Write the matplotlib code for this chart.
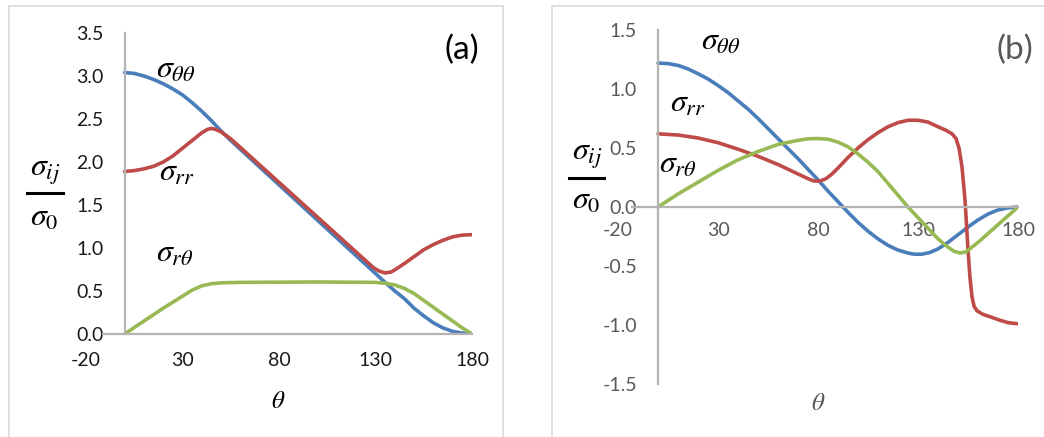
import matplotlib
matplotlib.use("Agg")
import matplotlib.pyplot as plt
from matplotlib.patches import Rectangle
from matplotlib.lines import Line2D

plt.rcParams['font.family'] = ['Lato', 'DejaVu Sans']
plt.rcParams['mathtext.fontset'] = 'stix'
plt.rcParams['axes.unicode_minus'] = False

# ---- panel (a) data ----
a_theta_tt = [0, 5, 10, 15, 20, 25, 30, 35, 40, 45, 50, 55, 135, 140, 145, 150, 155, 160, 165, 170, 175, 180]
a_sig_tt = [3.04, 3.03, 3.00, 2.96, 2.91, 2.85, 2.78, 2.69, 2.59, 2.48, 2.36, 2.25, 0.60, 0.50, 0.41, 0.30,
            0.21, 0.13, 0.07, 0.03, 0.01, 0.0]

a_theta_rr = [0, 5, 10, 15, 20, 25, 30, 35, 40, 43, 45, 47, 50, 55, 129, 132, 135, 138, 141, 145, 150,
              155, 160, 165, 170, 175, 180]
a_sig_rr = [1.89, 1.90, 1.92, 1.95, 2.00, 2.07, 2.16, 2.25, 2.34, 2.38, 2.39, 2.38, 2.35, 2.27, 0.77, 0.73,
            0.71, 0.72, 0.76, 0.82, 0.90, 0.98, 1.04, 1.09, 1.13, 1.15, 1.155]

a_theta_rt = [0, 10, 20, 30, 35, 40, 45, 50, 60, 100, 130, 135, 140, 145, 150, 155, 160, 165, 170, 175, 180]
a_sig_rt = [0.0, 0.15, 0.30, 0.44, 0.51, 0.56, 0.585, 0.595, 0.60, 0.605, 0.60, 0.59, 0.57, 0.53, 0.47, 0.39,
            0.31, 0.23, 0.15, 0.07, 0.0]

# ---- panel (b) data ----
b_theta_tt = [0, 5, 10, 15, 20, 25, 30, 35, 40, 45, 50, 55, 60, 65, 70, 75, 80, 85, 90, 95, 100, 105, 110,
              115, 120, 125, 128, 132, 136, 140, 145, 150, 155, 160, 165, 170, 175, 180]
b_sig_tt = [1.22, 1.215, 1.20, 1.17, 1.13, 1.085, 1.03, 0.97, 0.90, 0.83, 0.75, 0.665, 0.58, 0.495, 0.41,
            0.32, 0.23, 0.135, 0.045, -0.045, -0.13, -0.205, -0.27, -0.325, -0.365, -0.39, -0.40, -0.40,
            -0.385, -0.355, -0.30, -0.235, -0.17, -0.11, -0.06, -0.025, -0.007, 0.0]

b_theta_rr = [0, 10, 20, 30, 40, 50, 55, 60, 65, 70, 75, 78, 81, 84, 87, 90, 95, 100, 105, 110, 115, 120,
              125, 130, 135, 140, 144, 147, 149, 150.5, 152, 153.5, 155, 156, 157, 158, 159.5, 162.5, 166,
              171, 175, 180]
b_sig_rr = [0.62, 0.61, 0.585, 0.545, 0.49, 0.43, 0.395, 0.36, 0.32, 0.28, 0.24, 0.22, 0.22, 0.24, 0.28,
            0.33, 0.42, 0.50, 0.57, 0.63, 0.68, 0.715, 0.735, 0.735, 0.72, 0.68, 0.65, 0.62, 0.58, 0.50,
            0.34, 0.06, -0.36, -0.60, -0.76, -0.84, -0.88, -0.91, -0.93, -0.96, -0.98, -0.99]

b_theta_rt = [0, 10, 20, 30, 40, 50, 60, 70, 75, 80, 85, 90, 95, 100, 105, 110, 115, 120, 125, 130, 135,
              140, 145, 148, 151, 154, 160, 170, 180]
b_sig_rt = [0.0, 0.11, 0.21, 0.31, 0.40, 0.47, 0.53, 0.565, 0.578, 0.58, 0.575, 0.55, 0.51, 0.45, 0.38,
            0.30, 0.20, 0.10, 0.0, -0.09, -0.18, -0.27, -0.34, -0.375, -0.39, -0.38, -0.30, -0.15, 0.0]

x_ticks = [-20, 30, 80, 130, 180]
a_yticks = [0.0, 0.5, 1.0, 1.5, 2.0, 2.5, 3.0, 3.5]
b_yticks = [-1.5, -1.0, -0.5, 0.0, 0.5, 1.0, 1.5]

BLUE = '#4A7EBB'
RED = '#BE4B48'
GREEN = '#98B954'
AXIS = '#B3B3B3'

W, H = 1044, 437
fig = plt.figure(figsize=(W / 100, H / 100), dpi=100)


def fx(px):
    return px / W


def fy(py):
    return 1 - py / H


# panel borders
fig.add_artist(Rectangle((fx(9), fy(445)), fx(503) - fx(9), fy(6) - fy(445),
                         transform=fig.transFigure, fill=False, ec='#D9D9D9', lw=1.2))
fig.add_artist(Rectangle((fx(552), fy(445)), fx(1060) - fx(552), fy(6) - fy(445),
                         transform=fig.transFigure, fill=False, ec='#D9D9D9', lw=1.2))


def setup(ax, yticks, ylim, tick_color, xpad, xstart):
    ax.set_xlim(-20, 180)
    ax.set_ylim(*ylim)
    for s in ['top', 'right']:
        ax.spines[s].set_visible(False)
    ax.spines['left'].set_position(('data', 0))
    ax.spines['bottom'].set_position(('data', 0))
    ax.spines['bottom'].set_bounds(xstart, 180)
    for s in ['left', 'bottom']:
        ax.spines[s].set_color(AXIS)
        ax.spines[s].set_linewidth(1.6)
    ax.set_xticks(x_ticks)
    ax.set_yticks(yticks)
    ax.set_yticklabels([f'{v:.1f}' for v in yticks])
    ax.tick_params(axis='both', length=0, labelsize=14, colors=tick_color)
    ax.tick_params(axis='y', pad=15)
    ax.tick_params(axis='x', pad=xpad)
    ax.patch.set_alpha(0)


lw = 2.6
kw = dict(lw=lw, solid_capstyle='round', solid_joinstyle='round')

# ---- (a) ----
ax1 = fig.add_axes([fx(86), fy(334), fx(472) - fx(86), fy(33) - fy(334)])
setup(ax1, a_yticks, (0, 3.5), '#1A1A1A', 13, -11)
ax1.plot(a_theta_tt, a_sig_tt, color=BLUE, **kw)
ax1.plot(a_theta_rr, a_sig_rr, color=RED, **kw)
ax1.plot(a_theta_rt, a_sig_rt, color=GREEN, **kw)

# ---- (b) ----
ax2 = fig.add_axes([fx(618), fy(207 + 1.5 * 118), fx(1018) - fx(618), 3.0 * 118 / H])
setup(ax2, b_yticks, (-1.5, 1.5), '#595959', 11, -13)
ax2.plot(b_theta_tt, b_sig_tt, color=BLUE, **kw)
ax2.plot(b_theta_rr, b_sig_rr, color=RED, **kw)
ax2.plot(b_theta_rt, b_sig_rt, color=GREEN, **kw)

# curve labels
lab = 23
fig.text(fx(156), fy(78), r'$\sigma_{\theta\theta}$', fontsize=lab, va='baseline')
fig.text(fx(159), fy(181), r'$\sigma_{rr}$', fontsize=lab, va='baseline')
fig.text(fx(156), fy(262), r'$\sigma_{r\theta}$', fontsize=lab, va='baseline')
fig.text(fx(701), fy(50), r'$\sigma_{\theta\theta}$', fontsize=lab, va='baseline')
fig.text(fx(670), fy(112), r'$\sigma_{rr}$', fontsize=lab, va='baseline')
fig.text(fx(659), fy(173), r'$\sigma_{r\theta}$', fontsize=lab, va='baseline')

# y labels as fractions
for (cx, ynum, ybar, yden, x0, x1) in [(45, 172, 193, 217, 27, 63), (587, 156, 178, 200, 569, 604)]:
    fig.text(fx(cx), fy(ynum), r'$\sigma_{ij}$', fontsize=lab, ha='center', va='center')
    fig.text(fx(cx - 1), fy(yden), r'$\sigma_0$', fontsize=lab, ha='center', va='center')
    fig.add_artist(Line2D([fx(x0), fx(x1)], [fy(ybar), fy(ybar)], transform=fig.transFigure,
                          color='black', lw=2.2))

# x labels
fig.text(fx(278), fy(400), r'$\theta$', fontsize=18, ha='center', va='center', color='black')
fig.text(fx(818), fy(403), r'$\theta$', fontsize=18, ha='center', va='center', color='#595959')

# panel tags
fig.text(fx(462), fy(50), '(a)', fontsize=24, ha='center', va='center', color='black')
fig.text(fx(1015), fy(50), '(b)', fontsize=24, ha='center', va='center', color='#595959')

fig.savefig('out.png', dpi=100)
